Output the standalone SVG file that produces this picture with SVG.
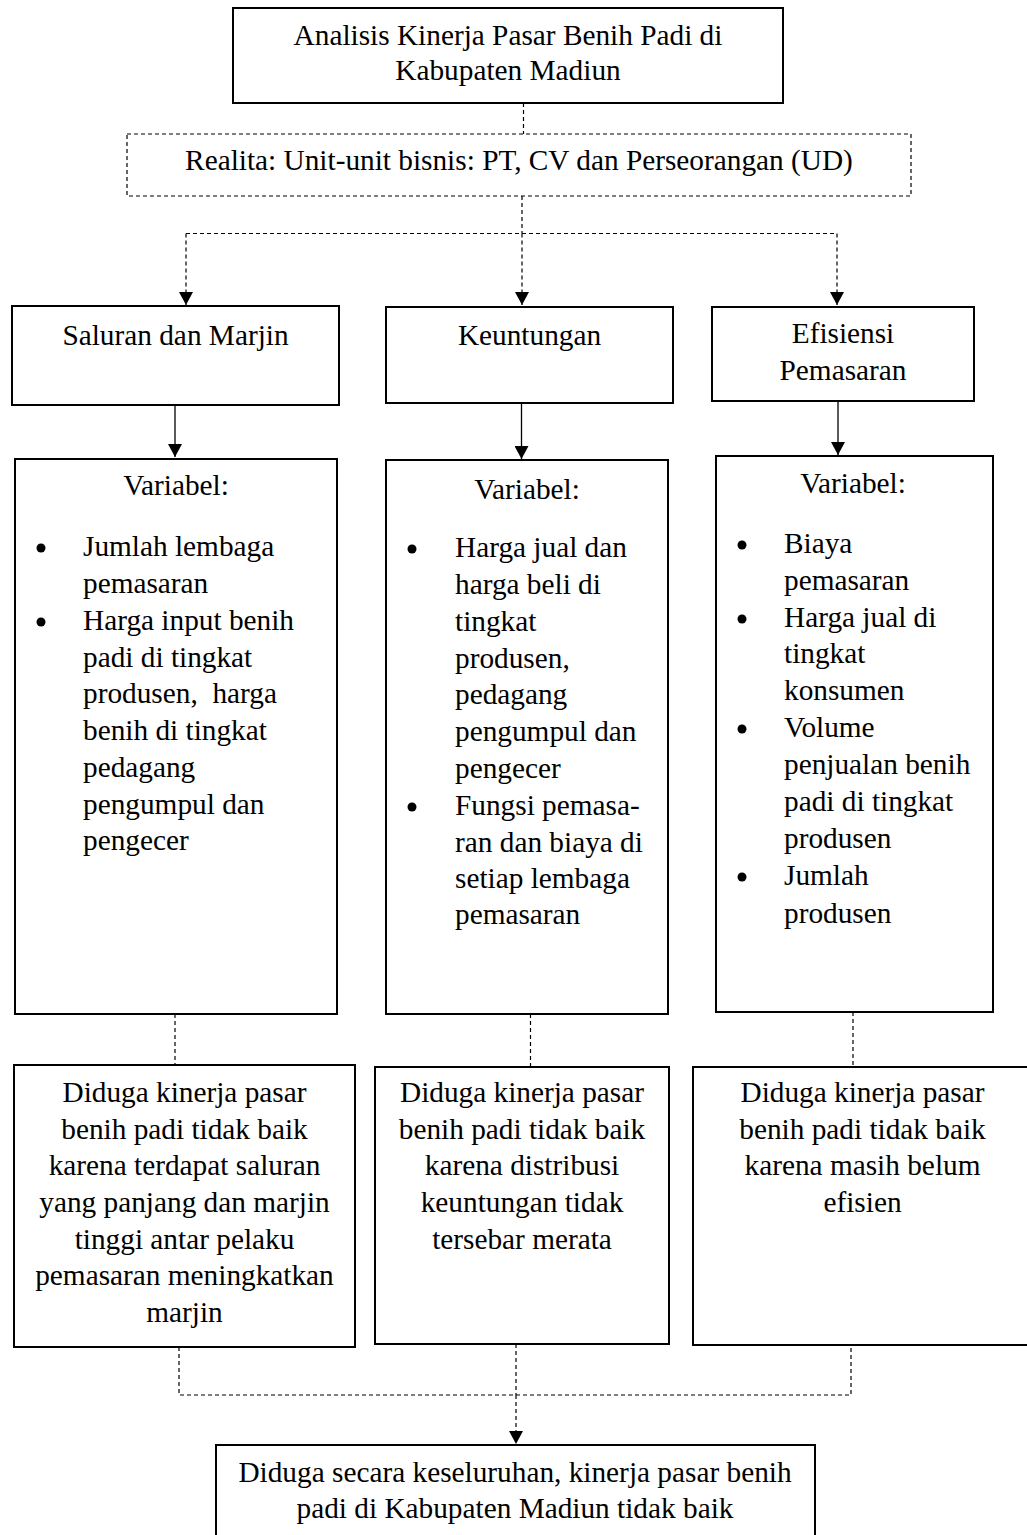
<svg xmlns="http://www.w3.org/2000/svg" width="1027" height="1535" viewBox="0 0 1027 1535">
<defs>
<style>
text{font-family:"Liberation Serif","Times New Roman",serif;font-size:29.3px;fill:#000}
.c{text-anchor:middle}
.box{fill:#fff;stroke:#000;stroke-width:2}
.dbox{fill:#fff;stroke:#000;stroke-width:1.2;stroke-dasharray:4,3}
.dash{fill:none;stroke:#000;stroke-width:1.2;stroke-dasharray:4,3}
.solid{fill:none;stroke:#000;stroke-width:1.3}
.bul{fill:#000}
</style>
<marker id="ah" markerUnits="userSpaceOnUse" markerWidth="14" markerHeight="14" refX="13" refY="7" orient="auto">
<path d="M0,0 L13,7 L0,14 z" fill="#000" stroke="none"/>
</marker>
</defs>
<rect width="1027" height="1535" fill="#fff"/>

<g id="connectors">
<path class="dash" d="M523.5,103 V134"/>
<path class="dash" d="M522,196 V233.5"/>
<path class="dash" d="M186,233.5 H837"/>
<path class="dash" d="M186,233.5 V305" marker-end="url(#ah)"/>
<path class="dash" d="M522,233.5 V305" marker-end="url(#ah)"/>
<path class="dash" d="M837,233.5 V305" marker-end="url(#ah)"/>
<path class="solid" d="M175,405 V457" marker-end="url(#ah)"/>
<path class="solid" d="M521.5,403 V459" marker-end="url(#ah)"/>
<path class="solid" d="M838,401 V455" marker-end="url(#ah)"/>
<path class="dash" d="M175,1014 V1065"/>
<path class="dash" d="M530.5,1014 V1067"/>
<path class="dash" d="M853,1012 V1067"/>
<path class="dash" d="M179,1347 V1395 H851 V1345"/>
<path class="dash" d="M516,1344 V1395"/>
<path class="dash" d="M516,1395 V1444" marker-end="url(#ah)"/>
</g>

<g id="n-title">
<rect class="box" x="233" y="8" width="550" height="95"/>
<text class="c" x="508" y="45">Analisis Kinerja Pasar Benih Padi di</text>
<text class="c" x="508" y="80">Kabupaten Madiun</text>
</g>

<g id="n-realita">
<rect class="dbox" x="127" y="134" width="784" height="62"/>
<text class="c" x="519" y="170">Realita: Unit-unit bisnis: PT, CV dan Perseorangan (UD)</text>
</g>

<g id="n-saluran">
<rect class="box" x="12" y="306" width="327" height="99"/>
<text class="c" x="175.5" y="345">Saluran dan Marjin</text>
</g>

<g id="n-keuntungan">
<rect class="box" x="386" y="307" width="287" height="96"/>
<text class="c" x="529.5" y="345">Keuntungan</text>
</g>

<g id="n-efisiensi">
<rect class="box" x="712" y="307" width="262" height="94"/>
<text class="c" x="843" y="343">Efisiensi</text>
<text class="c" x="843" y="380">Pemasaran</text>
</g>

<g id="n-var-saluran">
<rect class="box" x="15" y="459" width="322" height="555"/>
<text class="c" x="176" y="495">Variabel:</text>
<circle class="bul" cx="41" cy="548" r="4.5"/>
<circle class="bul" cx="41" cy="622" r="4.5"/>
<text x="83" y="556">Jumlah lembaga</text>
<text x="83" y="593">pemasaran</text>
<text x="83" y="630">Harga input benih</text>
<text x="83" y="667">padi di tingkat</text>
<text x="83" y="703" xml:space="preserve">produsen,  harga</text>
<text x="83" y="740">benih di tingkat</text>
<text x="83" y="777">pedagang</text>
<text x="83" y="814">pengumpul dan</text>
<text x="83" y="850">pengecer</text>
</g>

<g id="n-var-keuntungan">
<rect class="box" x="386" y="460" width="282" height="554"/>
<text class="c" x="527" y="499">Variabel:</text>
<circle class="bul" cx="412" cy="549" r="4.5"/>
<circle class="bul" cx="412" cy="807" r="4.5"/>
<text x="455" y="557">Harga jual dan</text>
<text x="455" y="594">harga beli di</text>
<text x="455" y="631">tingkat</text>
<text x="455" y="668">produsen,</text>
<text x="455" y="704">pedagang</text>
<text x="455" y="741">pengumpul dan</text>
<text x="455" y="778">pengecer</text>
<text x="455" y="815">Fungsi pemasa-</text>
<text x="455" y="852">ran dan biaya di</text>
<text x="455" y="888">setiap lembaga</text>
<text x="455" y="924">pemasaran</text>
</g>

<g id="n-var-efisiensi">
<rect class="box" x="716" y="456" width="277" height="556"/>
<text class="c" x="853" y="493">Variabel:</text>
<circle class="bul" cx="742" cy="545" r="4.5"/>
<circle class="bul" cx="742" cy="619" r="4.5"/>
<circle class="bul" cx="742" cy="729" r="4.5"/>
<circle class="bul" cx="742" cy="877" r="4.5"/>
<text x="784" y="553">Biaya</text>
<text x="784" y="590">pemasaran</text>
<text x="784" y="627">Harga jual di</text>
<text x="784" y="663">tingkat</text>
<text x="784" y="700">konsumen</text>
<text x="784" y="737">Volume</text>
<text x="784" y="774">penjualan benih</text>
<text x="784" y="811">padi di tingkat</text>
<text x="784" y="848">produsen</text>
<text x="784" y="885">Jumlah</text>
<text x="784" y="923">produsen</text>
</g>

<g id="n-diduga-saluran">
<rect class="box" x="14" y="1065" width="341" height="282"/>
<text class="c" x="184.5" y="1102">Diduga kinerja pasar</text>
<text class="c" x="184.5" y="1139">benih padi tidak baik</text>
<text class="c" x="184.5" y="1175">karena terdapat saluran</text>
<text class="c" x="184.5" y="1212">yang panjang dan marjin</text>
<text class="c" x="184.5" y="1249">tinggi antar pelaku</text>
<text class="c" x="184.5" y="1285">pemasaran meningkatkan</text>
<text class="c" x="184.5" y="1322">marjin</text>
</g>

<g id="n-diduga-keuntungan">
<rect class="box" x="375" y="1067" width="294" height="277"/>
<text class="c" x="522" y="1102">Diduga kinerja pasar</text>
<text class="c" x="522" y="1139">benih padi tidak baik</text>
<text class="c" x="522" y="1175">karena distribusi</text>
<text class="c" x="522" y="1212">keuntungan tidak</text>
<text class="c" x="522" y="1249">tersebar merata</text>
</g>

<g id="n-diduga-efisiensi">
<rect class="box" x="693" y="1067" width="340" height="278"/>
<text class="c" x="862.5" y="1102">Diduga kinerja pasar</text>
<text class="c" x="862.5" y="1139">benih padi tidak baik</text>
<text class="c" x="862.5" y="1175">karena masih belum</text>
<text class="c" x="862.5" y="1212">efisien</text>
</g>

<g id="n-kesimpulan">
<rect class="box" x="216" y="1445" width="599" height="100"/>
<text class="c" x="515" y="1482">Diduga secara keseluruhan, kinerja pasar benih</text>
<text class="c" x="515" y="1518">padi di Kabupaten Madiun tidak baik</text>
</g>
</svg>
